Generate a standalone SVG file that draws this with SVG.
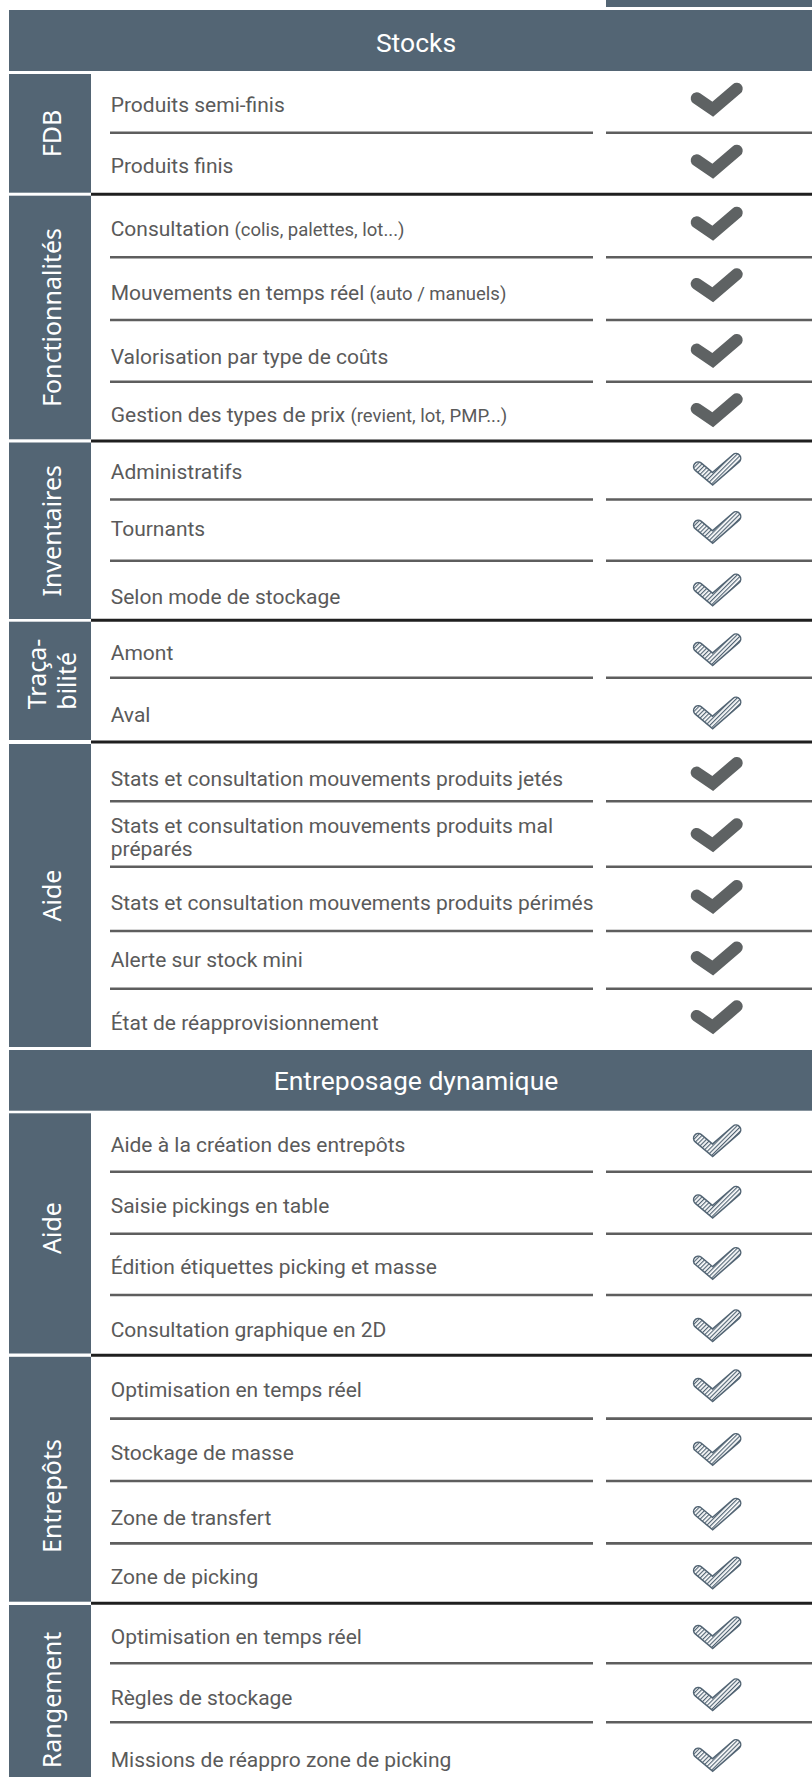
<svg xmlns="http://www.w3.org/2000/svg" width="812" height="1777" viewBox="0 0 812 1777">
<style>
.side{fill:#536574}
.hdr{fill:#536574}
.ht{font-family:Roboto,"Liberation Sans",sans-serif;font-size:26.5px;fill:#ffffff;text-anchor:middle}
.sl{font-family:"Noto Sans","DejaVu Sans",sans-serif;font-size:25px;fill:#ffffff;text-anchor:middle}
.t{font-family:Roboto,"Liberation Sans",sans-serif;font-size:21px;fill:#5a5a5a}
.s{font-size:18.5px}
.thin{stroke:#5e5e5e;stroke-width:2.6;fill:none}
.thick{stroke:#1f1f1f;stroke-width:3;fill:none}
</style>
<defs>
<pattern id="hatch" width="3" height="10" patternUnits="userSpaceOnUse" patternTransform="rotate(45)">
<rect width="3" height="10" fill="#ffffff"/>
<rect x="0" y="0" width="1.2" height="10" fill="#536574"/>
</pattern>
<g id="chk">
<polyline points="-20,-1.9 -4,9 20,-11.5" fill="none" stroke="#5e6263" stroke-width="12" stroke-linecap="round" stroke-linejoin="miter"/>
</g>
<g id="hchk">
<polyline points="-18.5,-2.8 -4.2,9.2 19.2,-11.2" fill="none" stroke="#536574" stroke-width="11" stroke-linecap="round" stroke-linejoin="miter"/>
<polyline points="-18.5,-2.8 -4.2,9.2 19.2,-11.2" fill="none" stroke="url(#hatch)" stroke-width="8" stroke-linecap="round" stroke-linejoin="miter"/>
</g>
</defs>
<rect width="812" height="1777" fill="#ffffff"/>
<rect x="606" y="0" width="206" height="7" class="hdr"/>

<g id="header-stocks">
<rect x="9" y="10" width="803" height="61" class="hdr"/>
<text x="416" y="51.7" class="ht">Stocks</text>
</g>

<g id="connectors">
<g class="thin">
<path d="M110,132.7H593M606,132.7H812"/>
<path d="M110,257.3H593M606,257.3H812"/>
<path d="M110,320H593M606,320H812"/>
<path d="M110,381.7H593M606,381.7H812"/>
<path d="M110,499.5H593M606,499.5H812"/>
<path d="M110,560.8H593M606,560.8H812"/>
<path d="M110,677.8H593M606,677.8H812"/>
<path d="M110,801.3H593M606,801.3H812"/>
<path d="M110,866.7H593M606,866.7H812"/>
<path d="M110,931H593M606,931H812"/>
<path d="M110,988.8H593M606,988.8H812"/>
<path d="M110,1171.7H593M606,1171.7H812"/>
<path d="M110,1233.8H593M606,1233.8H812"/>
<path d="M110,1295H593M606,1295H812"/>
<path d="M110,1418.6H593M606,1418.6H812"/>
<path d="M110,1481H593M606,1481H812"/>
<path d="M110,1543.4H593M606,1543.4H812"/>
<path d="M110,1663.3H593M606,1663.3H812"/>
<path d="M110,1722.3H593M606,1722.3H812"/>
</g>
<g class="thick">
<path d="M91,194.2H812"/>
<path d="M91,440.9H812"/>
<path d="M91,620.3H812"/>
<path d="M91,742H812"/>
<path d="M91,1355.2H812"/>
<path d="M91,1603.3H812"/>
</g>
</g>

<g id="grp-fdb">
<rect x="9" y="74" width="82" height="118.7" class="side"/>
<text transform="translate(61,133.5) rotate(-90)" class="sl">FDB</text>
</g>
<g id="grp-fonctionnalites">
<rect x="9" y="195.7" width="82" height="243.6" class="side"/>
<text transform="translate(61,317.5) rotate(-90)" class="sl">Fonctionnalités</text>
</g>
<g id="grp-inventaires">
<rect x="9" y="442.5" width="82" height="176.5" class="side"/>
<text transform="translate(61,530.8) rotate(-90)" class="sl">Inventaires</text>
</g>
<g id="grp-tracabilite">
<rect x="9" y="621.7" width="82" height="118.3" class="side"/>
<text transform="translate(45.5,674) rotate(-90)" class="sl">Traça-</text>
<text transform="translate(76,680.8) rotate(-90)" class="sl">bilité</text>
</g>
<g id="grp-aide-stocks">
<rect x="9" y="744" width="82" height="303" class="side"/>
<text transform="translate(61,895.5) rotate(-90)" class="sl">Aide</text>
</g>

<g id="header-entreposage">
<rect x="9" y="1050" width="803" height="60.7" class="hdr"/>
<text x="416" y="1090" class="ht">Entreposage dynamique</text>
</g>

<g id="grp-aide-entreposage">
<rect x="9" y="1113.3" width="82" height="240.2" class="side"/>
<text transform="translate(61,1228) rotate(-90)" class="sl">Aide</text>
</g>
<g id="grp-entrepots">
<rect x="9" y="1356.8" width="82" height="244.9" class="side"/>
<text transform="translate(61,1496) rotate(-90)" class="sl">Entrepôts</text>
</g>
<g id="grp-rangement">
<rect x="9" y="1605" width="82" height="172" class="side"/>
<text transform="translate(61,1700) rotate(-90)" class="sl">Rangement</text>
</g>

<g id="rows-text">
<text x="110.7" y="111.5" class="t">Produits semi-finis</text>
<text x="110.7" y="173" class="t">Produits finis</text>
<text x="110.7" y="236" class="t">Consultation <tspan class="s">(colis, palettes, lot...)</tspan></text>
<text x="110.7" y="300" class="t">Mouvements en temps réel <tspan class="s">(auto / manuels)</tspan></text>
<text x="110.7" y="363.5" class="t">Valorisation par type de coûts</text>
<text x="110.7" y="422" class="t">Gestion des types de prix <tspan class="s">(revient, lot, PMP...)</tspan></text>
<text x="110.7" y="478.5" class="t">Administratifs</text>
<text x="110.7" y="536" class="t">Tournants</text>
<text x="110.7" y="603.5" class="t">Selon mode de stockage</text>
<text x="110.7" y="660" class="t">Amont</text>
<text x="110.7" y="722" class="t">Aval</text>
<text x="110.7" y="786" class="t">Stats et consultation mouvements produits jetés</text>
<text x="110.7" y="832.5" class="t">Stats et consultation mouvements produits mal</text>
<text x="110.7" y="856" class="t">préparés</text>
<text x="110.7" y="910" class="t">Stats et consultation mouvements produits périmés</text>
<text x="110.7" y="967" class="t">Alerte sur stock mini</text>
<text x="110.7" y="1030" class="t">État de réapprovisionnement</text>
<text x="110.7" y="1152" class="t">Aide à la création des entrepôts</text>
<text x="110.7" y="1213" class="t">Saisie pickings en table</text>
<text x="110.7" y="1274" class="t">Édition étiquettes picking et masse</text>
<text x="110.7" y="1336.5" class="t">Consultation graphique en 2D</text>
<text x="110.7" y="1396.5" class="t">Optimisation en temps réel</text>
<text x="110.7" y="1460" class="t">Stockage de masse</text>
<text x="110.7" y="1524.5" class="t">Zone de transfert</text>
<text x="110.7" y="1584" class="t">Zone de picking</text>
<text x="110.7" y="1643.5" class="t">Optimisation en temps réel</text>
<text x="110.7" y="1705" class="t">Règles de stockage</text>
<text x="110.7" y="1767" class="t">Missions de réappro zone de picking</text>
</g>

<g id="rows-checks">
<use href="#chk" x="716.7" y="100.2"/>
<use href="#chk" x="716.7" y="162.2"/>
<use href="#chk" x="716.7" y="224.2"/>
<use href="#chk" x="716.7" y="285.8"/>
<use href="#chk" x="716.7" y="351.5"/>
<use href="#chk" x="716.7" y="410.8"/>
<use href="#hchk" x="716.8" y="469.5"/>
<use href="#hchk" x="716.8" y="527.8"/>
<use href="#hchk" x="716.8" y="590.3"/>
<use href="#hchk" x="716.8" y="650"/>
<use href="#hchk" x="716.8" y="713.3"/>
<use href="#chk" x="716.7" y="774.5"/>
<use href="#chk" x="716.7" y="835.8"/>
<use href="#chk" x="716.7" y="897.5"/>
<use href="#chk" x="716.7" y="959"/>
<use href="#chk" x="716.7" y="1017.8"/>
<use href="#hchk" x="716.8" y="1141"/>
<use href="#hchk" x="716.8" y="1202.5"/>
<use href="#hchk" x="716.8" y="1263.7"/>
<use href="#hchk" x="716.8" y="1326"/>
<use href="#hchk" x="716.8" y="1386"/>
<use href="#hchk" x="716.8" y="1449.7"/>
<use href="#hchk" x="716.8" y="1514.4"/>
<use href="#hchk" x="716.8" y="1573.3"/>
<use href="#hchk" x="716.8" y="1633"/>
<use href="#hchk" x="716.8" y="1695"/>
<use href="#hchk" x="716.8" y="1755.8"/>
</g>
</svg>
